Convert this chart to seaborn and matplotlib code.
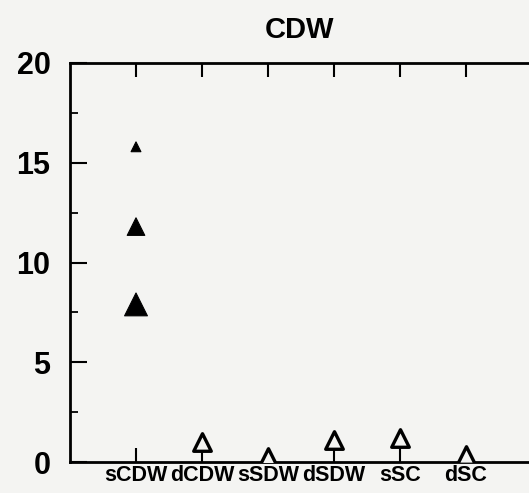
import matplotlib
matplotlib.use("Agg")
import matplotlib.pyplot as plt
import seaborn as sns
import pandas as pd
from matplotlib.ticker import MultipleLocator

categories = ["sCDW", "dCDW", "sSDW", "dSDW", "sSC", "dSC"]
filled_cat = ["sCDW", "sCDW", "sCDW"]
filled_vals = [15.8, 11.8, 7.9]
filled_size = [1, 2, 3]
open_cat = ["dCDW", "sSDW", "dSDW", "sSC", "dSC"]
open_vals = [1.0, 0.25, 1.1, 1.2, 0.35]
y_ticks = [0, 5, 10, 15, 20]
title = "CDW"

sns.set_style("ticks")
plt.rcParams["font.family"] = ["Liberation Sans", "DejaVu Sans"]
plt.rcParams["text.color"] = "black"
plt.rcParams["xtick.color"] = "black"
plt.rcParams["ytick.color"] = "black"
plt.rcParams["xtick.labelcolor"] = "black"
plt.rcParams["ytick.labelcolor"] = "black"
bg = "#f4f4f2"

fig = plt.figure(figsize=(5.29, 4.93), dpi=100, facecolor=bg)
ax = fig.add_axes([70 / 529, 31 / 493, 462 / 529, 399 / 493], facecolor=bg)

pos = {c: i for i, c in enumerate(categories)}
df_f = pd.DataFrame({"x": [pos[c] for c in filled_cat], "y": filled_vals, "s": filled_size})
df_o = pd.DataFrame({"x": [pos[c] for c in open_cat], "y": open_vals})

sns.scatterplot(data=df_f, x="x", y="y", size="s", sizes=(50, 270), marker="^",
                color="black", edgecolor="black", linewidth=0.8, legend=False, ax=ax, zorder=3)
sns.scatterplot(data=df_o, x="x", y="y", marker="^", s=160, facecolor=bg,
                edgecolor="black", linewidth=2.4, legend=False, ax=ax, zorder=3)

ax.set_xlim(-1, 6)
ax.set_ylim(0, 20)
ax.set_xticks(range(len(categories)))
ax.set_xticklabels(categories, fontsize=15.5, fontweight="bold")
ax.set_yticks(y_ticks)
ax.set_yticklabels([str(v) for v in y_ticks], fontsize=22, fontweight="bold")
ax.yaxis.set_minor_locator(MultipleLocator(2.5))
ax.tick_params(axis="y", which="major", direction="in", length=12, width=1.5, pad=14)
ax.tick_params(axis="y", which="minor", direction="in", length=6, width=1.3)
ax.tick_params(axis="x", which="major", direction="in", length=10, width=1.5, pad=2,
               top=True)
ax.set_xlabel("")
ax.set_ylabel("")
for sp in ax.spines.values():
    sp.set_linewidth(2)
    sp.set_color("black")

fig.text(300 / 529, 1 - 30 / 493, title, ha="center", va="center",
         fontsize=21, fontweight="bold")

fig.savefig("out.png", dpi=100, facecolor=bg)
